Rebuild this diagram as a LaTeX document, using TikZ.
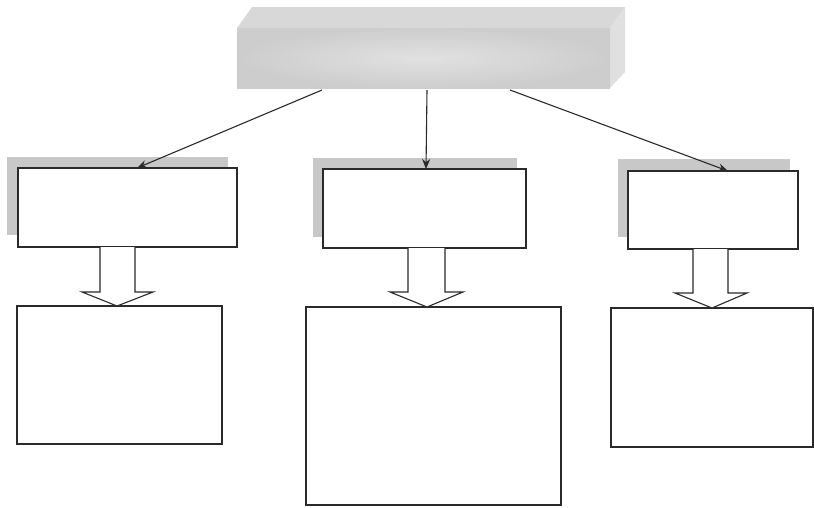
\documentclass[tikz,border=0pt]{standalone}
\usetikzlibrary{arrows.meta,calc}
\definecolor{edge}{HTML}{2A2A2A}
\definecolor{shadowgray}{HTML}{C8C8C8}
\definecolor{topface}{HTML}{D8D8D8}
\definecolor{frontface}{HTML}{CDCDCD}
\definecolor{sideface}{HTML}{E0E0E0}
\tikzset{
  box/.style={draw=edge, line width=1.1pt, fill=white, rectangle, inner sep=0pt, outer sep=0pt},
  conn/.style={draw=edge, line width=1.1pt, -{Stealth[length=10pt,width=8pt]}},
  blockarrow/.style={draw=edge, line width=1.1pt, fill=white, line join=miter}
}
\begin{document}
\begin{tikzpicture}[x=1pt,y=-1pt]
\useasboundingbox (0,0) rectangle (814,507);
% top 3D box
\fill[topface] (237,28) -- (252,7) -- (625,7) -- (610,28) -- cycle;
\fill[sideface] (610,28) -- (625,7) -- (625,72) -- (610,88) -- cycle;
\node[rectangle, inner sep=0pt, outer sep=0pt, minimum width=373pt, minimum height=60pt,
      inner color=frontface!60, outer color=frontface] (tf) at (423.5,58) {};
% shadows
\fill[shadowgray] (7,157) rectangle (228,235);
\fill[shadowgray] (313,158) rectangle (517,237);
\fill[shadowgray] (618,159) rectangle (790,237);
% middle boxes
\node[box, minimum width=219pt, minimum height=79pt] (b1) at (127.5,207.5) {};
\node[box, minimum width=203pt, minimum height=79pt] (b2) at (424.5,208.5) {};
\node[box, minimum width=170pt, minimum height=78pt] (b3) at (713,210) {};
% bottom boxes
\node[box, minimum width=205pt, minimum height=138pt] (c1) at (119.5,375) {};
\node[box, minimum width=255pt, minimum height=198pt] (c2) at (433.5,406) {};
\node[box, minimum width=202pt, minimum height=139pt] (c3) at (712,377.5) {};
% connectors from top box
\draw[conn] ($(tf.south west)+(85,2)$) -- ($(b1.north west)+(119,0)$);
\draw[conn] ($(tf.south west)+(190,2)$) -- ($(b2.north west)+(103,0)$);
\draw[conn] ($(tf.south west)+(273,2)$) -- ($(b3.north west)+(100,0)$);
% block arrows
\draw[blockarrow] (b1.south -| 100,0) -- (100,292) -- (82,292) -- (c1.north -| 117,0) -- (153,292) -- (135,292) -- (b1.south -| 135,0);
\draw[blockarrow] (b2.south -| 408,0) -- (408,292) -- (390,292) -- (c2.north -| 427,0) -- (463,292) -- (445,292) -- (b2.south -| 445,0);
\draw[blockarrow] (b3.south -| 693,0) -- (693,293) -- (675,293) -- (c3.north -| 712,0) -- (747,293) -- (728,293) -- (b3.south -| 728,0);
\end{tikzpicture}
\end{document}
